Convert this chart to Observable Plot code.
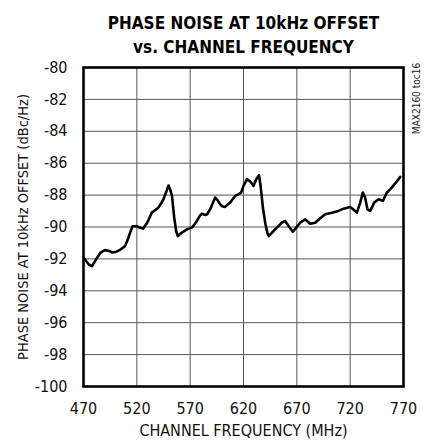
<!DOCTYPE html>
<html>
<head>
<meta charset="utf-8">
<script src="https://cdn.jsdelivr.net/npm/d3@7"></script>
<script src="https://cdn.jsdelivr.net/npm/@observablehq/plot@0.6"></script>
<style>
  html, body { margin: 0; padding: 0; background: #fff; }
  svg { display: block; }
</style>
</head>
<body>
<div id="chart"></div>
<script>
const titleLines = ["PHASE NOISE AT 10kHz OFFSET", "vs. CHANNEL FREQUENCY"];
const xLabel = "CHANNEL FREQUENCY (MHz)";
const yLabel = "PHASE NOISE AT 10kHz OFFSET (dBc/Hz)";
const note = "MAX2160 toc16";
const xTicks = [470, 520, 570, 620, 670, 720, 770];
const yTicks = [-100, -98, -96, -94, -92, -90, -88, -86, -84, -82, -80];

const freq = [470, 472, 475, 478, 482, 486, 490, 494, 497, 501, 505, 509, 512, 514, 516, 520, 523, 526, 529, 531, 534, 537, 540, 543, 545, 547, 549.7, 551, 553, 555, 557, 558.5, 562, 567, 571.6, 574, 576.3, 579, 581, 584, 586, 589.4, 591.5, 593.5, 596, 598, 600, 602.8, 605, 607.5, 610, 612.2, 615, 617.8, 620, 623.2, 626.3, 629.4, 632, 634.5, 636, 638.2, 640.5, 642.5, 643.8, 646.6, 651.3, 656, 659, 662.2, 666.3, 669.4, 673.1, 677.8, 682.5, 687.2, 691.9, 696.6, 702.9, 709, 713.8, 720, 723, 726.3, 729.4, 731.9, 734, 736.2, 738.8, 742.5, 746.6, 750.7, 754.4, 759, 763, 767];
const noise = [-91.9, -92.1, -92.35, -92.45, -92.0, -91.6, -91.45, -91.5, -91.6, -91.55, -91.4, -91.2, -90.7, -90.3, -89.95, -89.95, -90.05, -90.1, -89.8, -89.55, -89.1, -88.95, -88.8, -88.5, -88.25, -87.9, -87.4, -87.6, -88.05, -89.4, -90.3, -90.57, -90.36, -90.15, -90.04, -89.85, -89.62, -89.3, -89.16, -89.25, -89.2, -88.8, -88.45, -88.15, -88.35, -88.57, -88.7, -88.74, -88.6, -88.47, -88.25, -88.05, -87.95, -87.84, -87.42, -87.0, -87.15, -87.42, -87.0, -86.75, -87.4, -88.8, -89.8, -90.4, -90.57, -90.36, -90.04, -89.73, -89.62, -89.94, -90.3, -90.04, -89.73, -89.52, -89.8, -89.73, -89.45, -89.2, -89.1, -88.99, -88.85, -88.74, -88.9, -89.1, -88.47, -87.84, -88.15, -88.89, -88.99, -88.47, -88.26, -88.36, -87.84, -87.53, -87.2, -86.86];

const data = freq.map((f, i) => ({f, v: noise[i]}));
const font = "'Liberation Sans Narrow', 'Arial Narrow', 'DejaVu Sans Condensed', sans-serif";

const chart = Plot.plot({
  width: 427,
  height: 445,
  marginLeft: 83,
  marginRight: 24,
  marginTop: 67,
  marginBottom: 59,
  style: {fontFamily: font, fontSize: "16px", color: "#000", background: "#fff"},
  x: {domain: [470, 770], label: null},
  y: {domain: [-100, -80], label: null},
  marks: [
    Plot.gridX(xTicks, {stroke: "#555", strokeOpacity: 1, strokeWidth: 1}),
    Plot.gridY(yTicks, {stroke: "#555", strokeOpacity: 1, strokeWidth: 1}),
    Plot.axisX(xTicks, {tickSize: 0, tickPadding: 16, fontSize: 16, fill: "#111"}),
    Plot.axisY(yTicks, {tickSize: 0, tickPadding: 16, fontSize: 16, fill: "#111", tickFormat: d => String(d)}),
    Plot.line(data, {x: "f", y: "v", stroke: "#000", strokeWidth: 2.6, strokeLinejoin: "round", strokeLinecap: "round"}),
    Plot.frame({stroke: "#000", strokeWidth: 2.6}),
    Plot.text([titleLines[0]], {frameAnchor: "top", dy: -51, fontSize: 17, fontWeight: "bold", fill: "#000", fontFamily: font}),
    Plot.text([titleLines[1]], {frameAnchor: "top", dy: -27, fontSize: 17, fontWeight: "bold", fill: "#000", fontFamily: font}),
    Plot.text([xLabel], {frameAnchor: "bottom", dy: 49, fontSize: 16, fill: "#111", fontFamily: font}),
    Plot.text([yLabel], {frameAnchor: "left", textAnchor: "middle", dx: -60, rotate: -90, fontSize: 14.5, fill: "#111", fontFamily: font}),
    Plot.text([note], {frameAnchor: "top-right", textAnchor: "middle", dx: 9, dy: 31, rotate: -90, fontSize: 10, fill: "#222", fontFamily: font})
  ]
});
document.getElementById("chart").appendChild(chart);
</script>
</body>
</html>
